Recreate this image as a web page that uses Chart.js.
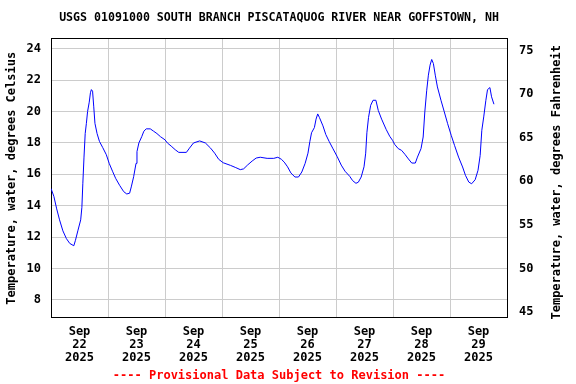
<!DOCTYPE html>
<html>
<head>
<meta charset="utf-8">
<script src="https://cdn.jsdelivr.net/npm/chart.js@4"></script>
<style>
  html, body { margin: 0; padding: 0; background: #fff; }
  #wrap { width: 576px; height: 384px; }
</style>
</head>
<body>
<div id="wrap"><canvas id="temp-chart" width="576" height="384"></canvas></div>
<script>
// hours since Sep 22 2025 00:00
const hours = [0, 1.2, 2.4, 3.6, 5.0, 6.5, 7.9, 9.6, 10.3, 11.3, 12.5, 13.0, 13.4, 13.9, 14.4, 14.9, 15.4, 16.1, 16.6, 17.0,
  17.5, 18.0, 18.5, 19.4, 20.4, 21.8, 23.3, 24.5, 25.9, 27.2, 28.9, 30.6, 31.9, 33.1, 33.8, 34.8, 35.8, 36.2, 37.0, 38.2,
  39.1, 40.1, 41.8, 43.2, 44.6, 46.1, 48.0, 49.0, 50.6, 52.3, 53.8, 57.0, 58.3, 60.0, 62.6, 65.0, 67.2, 68.9, 70.6, 72.5,
  75.6, 77.8, 79.7, 81.1, 82.8, 84.7, 86.4, 88.1, 91.0, 93.8, 95.5, 97.0, 98.2, 99.6, 101.0, 102.7, 104.2, 105.6, 107.0, 108.2,
  109.0, 109.7, 110.9, 111.6, 112.3, 113.0, 114.5, 115.7, 117.1, 118.6, 120.5, 122.2, 123.8, 125.8, 127.0, 128.4, 129.4, 130.6, 131.8, 132.5,
  133.0, 133.7, 134.6, 135.6, 136.8, 137.8, 139.2, 141.1, 142.6, 143.8, 144.7, 146.2, 147.6, 149.0, 150.5, 151.9, 153.4, 154.3, 155.8, 156.7,
  157.4, 158.2, 158.9, 159.6, 160.3, 161.0, 161.8, 162.7, 164.2, 165.6, 167.0, 168.5, 169.9, 171.6, 173.3, 174.5, 175.9, 177.1, 178.6, 179.8,
  180.7, 181.4, 182.2, 183.1, 183.8, 184.8, 185.5, 186.5];
const tempC = [15.1, 14.6, 13.8, 13.1, 12.4, 11.9, 11.6, 11.45, 11.8, 12.4, 13.1, 13.9, 15.4, 17.1, 18.6, 19.25, 20.0, 20.6, 21.2, 21.4,
  21.3, 20.3, 19.25, 18.6, 18.1, 17.7, 17.25, 16.7, 16.2, 15.75, 15.3, 14.9, 14.75, 14.8, 15.2, 15.85, 16.7, 17.45, 18.0, 18.4,
  18.75, 18.9, 18.9, 18.75, 18.6, 18.4, 18.2, 18.0, 17.8, 17.57, 17.4, 17.4, 17.67, 18.0, 18.13, 18.0, 17.67, 17.35, 16.96, 16.74,
  16.57, 16.43, 16.3, 16.35, 16.6, 16.85, 17.04, 17.09, 17.02, 17.02, 17.09, 16.96, 16.78, 16.48, 16.09, 15.83, 15.83, 16.15, 16.7, 17.35,
  18.1, 18.65, 18.98, 19.52, 19.85, 19.63, 19.09, 18.54, 18.1, 17.67, 17.13, 16.59, 16.2, 15.87, 15.6, 15.43, 15.5, 15.83, 16.48, 17.35,
  18.65, 19.63, 20.4, 20.72, 20.72, 20.07, 19.52, 18.87, 18.43, 18.17, 17.91, 17.64, 17.53, 17.28, 16.98, 16.72, 16.72, 17.1, 17.64, 18.38,
  19.98, 21.36, 22.32, 22.96, 23.32, 23.06, 22.32, 21.57, 20.72, 19.98, 19.23, 18.49, 17.85, 17.1, 16.47, 15.94, 15.51, 15.4, 15.66, 16.26,
  17.21, 18.81, 19.66, 20.72, 21.4, 21.53, 20.94, 20.47];

const dayLabels = ['22', '23', '24', '25', '26', '27', '28', '29'];
const cMin = 6.86, cMax = 24.64;

const FONT = { family: "'DejaVu Sans Mono', monospace", size: 12, weight: 'bold', lineHeight: 1.1 };
const TITLE_FONT = { family: FONT.family, size: 11.6, weight: 'bold', lineHeight: 1.1 };
Chart.defaults.color = '#000';
Chart.defaults.font.family = FONT.family;

// right-side title reads bottom-to-top like the left one
const rightTitle = {
  id: 'rightTitle',
  afterDraw(chart) {
    const ctx = chart.ctx;
    const area = chart.chartArea;
    ctx.save();
    ctx.translate(557, (area.top + area.bottom) / 2 + 4);
    ctx.rotate(-Math.PI / 2);
    ctx.font = 'bold 12px ' + FONT.family;
    ctx.fillStyle = '#000';
    ctx.textAlign = 'center';
    ctx.textBaseline = 'middle';
    ctx.fillText('Temperature, water, degrees Fahrenheit', 0, 0);
    ctx.restore();
  }
};

new Chart(document.getElementById('temp-chart'), {
  type: 'line',
  data: {
    datasets: [{
      data: hours.map((h, i) => ({ x: h, y: tempC[i] })),
      borderColor: '#0000ff',
      borderWidth: 1,
      pointRadius: 0,
      tension: 0,
      yAxisID: 'y'
    }]
  },
  options: {
    responsive: false,
    animation: false,
    layout: { padding: 0 },
    plugins: {
      legend: { display: false },
      tooltip: { enabled: false },
      title: {
        display: true,
        fullSize: false,
        text: 'USGS 01091000 SOUTH BRANCH PISCATAQUOG RIVER NEAR GOFFSTOWN, NH',
        font: TITLE_FONT,
        color: '#000',
        padding: { top: 12, bottom: 14 }
      },
      subtitle: {
        display: true,
        position: 'bottom',
        fullSize: false,
        text: '---- Provisional Data Subject to Revision ----',
        font: FONT,
        color: '#ff0000',
        padding: { top: 5, bottom: 2 }
      }
    },
    scales: {
      x: {
        type: 'linear',
        min: 0,
        max: 192,
        afterFit: s => { s.height = 46; },
        ticks: {
          stepSize: 12,
          autoSkip: false,
          maxRotation: 0,
          padding: 7,
          font: FONT,
          callback: v => (v % 24 === 12 ? ['Sep', dayLabels[(v - 12) / 24], '2025'] : '')
        },
        grid: {
          drawTicks: false,
          color: c => (c.tick && c.tick.value % 24 === 0 ? '#cccccc' : 'rgba(0,0,0,0)')
        },
        border: { color: '#000', width: 1 }
      },
      xTop: {
        type: 'linear',
        position: 'top',
        min: 0,
        max: 192,
        ticks: { display: false },
        grid: { drawOnChartArea: false, drawTicks: false },
        border: { color: '#000', width: 1 }
      },
      y: {
        position: 'left',
        min: cMin,
        max: cMax,
        afterFit: s => { s.width = 51; },
        ticks: { stepSize: 2, includeBounds: false, padding: 10, font: FONT },
        grid: { drawTicks: false, color: '#cccccc' },
        border: { color: '#000', width: 1 },
        title: {
          display: true,
          text: 'Temperature, water, degrees Celsius',
          font: FONT,
          padding: { top: 5, bottom: 0 }
        }
      },
      yF: {
        position: 'right',
        min: cMin * 9 / 5 + 32,
        max: cMax * 9 / 5 + 32,
        afterFit: s => { s.width = 69; },
        ticks: { stepSize: 5, includeBounds: false, padding: 12, font: FONT },
        grid: { drawOnChartArea: false, drawTicks: false },
        border: { color: '#000', width: 1 }
      }
    }
  },
  plugins: [rightTitle]
});
</script>
</body>
</html>
